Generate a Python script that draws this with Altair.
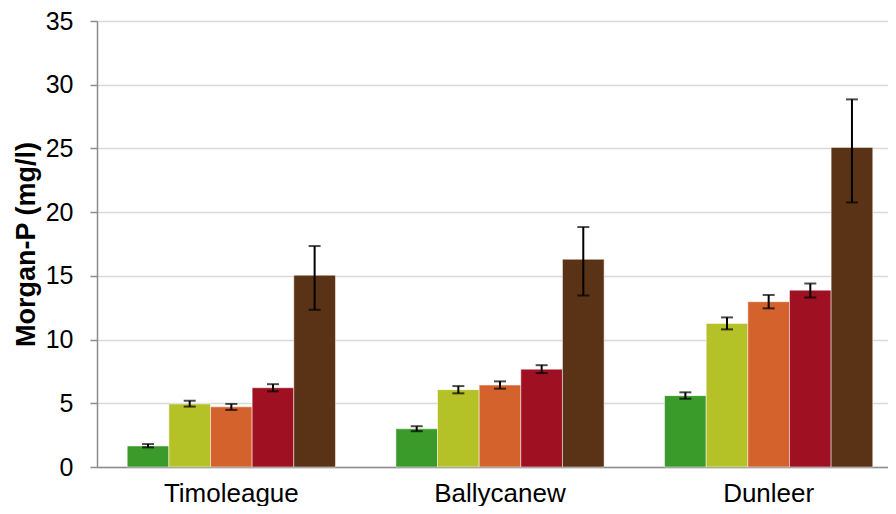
import altair as alt
import pandas as pd

sites = ["Timoleague", "Ballycanew", "Dunleer"]
treatments = ["T1", "T2", "T3", "T4", "T5"]
colors = ["#3A9A2A", "#B5C227", "#D4622D", "#A01023", "#5A3215"]

means = {
    "Timoleague": [1.65, 4.95, 4.72, 6.22, 15.05],
    "Ballycanew": [3.00, 6.07, 6.43, 7.68, 16.30],
    "Dunleer": [5.60, 11.27, 12.97, 13.88, 25.08],
}
lows = {
    "Timoleague": [1.54, 4.74, 4.48, 5.94, 12.34],
    "Ballycanew": [2.81, 5.78, 6.15, 7.37, 13.46],
    "Dunleer": [5.36, 10.80, 12.45, 13.30, 20.76],
}
highs = {
    "Timoleague": [1.80, 5.20, 4.95, 6.50, 17.34],
    "Ballycanew": [3.20, 6.35, 6.72, 7.99, 18.83],
    "Dunleer": [5.86, 11.74, 13.50, 14.40, 28.85],
}

rows = []
for s in sites:
    for i, t in enumerate(treatments):
        rows.append({"site": s, "trt": t, "mean": means[s][i],
                     "lo": lows[s][i], "hi": highs[s][i]})
df = pd.DataFrame(rows)

FONT = "Liberation Sans"

x = alt.X("site:N", sort=sites, title=None,
          scale=alt.Scale(range=[0, 806], paddingInner=0.225, paddingOuter=0.1125),
          axis=alt.Axis(ticks=False, labelAngle=0, labelPadding=13,
                        labelFontSize=26, labelFont=FONT, labelColor="#000000",
                        domainColor="#8c8c8c", domainWidth=1.5, grid=False))
xo = alt.XOffset("trt:N", sort=treatments, scale=alt.Scale(paddingInner=0, paddingOuter=0))
yscale = alt.Scale(domain=[0, 35])

bars = alt.Chart(df).mark_bar(stroke="#ffffff", strokeWidth=0.7, strokeOpacity=0.7).encode(
    x=x,
    xOffset=xo,
    y=alt.Y("mean:Q", scale=yscale, title="Morgan-P (mg/l)",
            axis=alt.Axis(values=[0, 5, 10, 15, 20, 25, 30, 35], tickSize=7,
                          tickColor="#8c8c8c", tickWidth=1.5,
                          domainColor="#8c8c8c", domainWidth=1.5,
                          gridColor="#d9d9d9", gridWidth=1.5,
                          labelFontSize=25, labelFont=FONT, labelColor="#000000",
                          labelPadding=17, titleFont=FONT, titleFontSize=27,
                          titleFontWeight="bold", titleColor="#000000", titlePadding=5)),
    color=alt.Color("trt:N", sort=treatments,
                    scale=alt.Scale(domain=treatments, range=colors), legend=None),
)

rules = alt.Chart(df).mark_rule(color="#000000", strokeWidth=2).encode(
    x=alt.X("site:N", sort=sites), xOffset=xo,
    y=alt.Y("lo:Q", scale=yscale), y2="hi:Q",
)
cap_hi = alt.Chart(df).mark_tick(color="#000000", thickness=2, size=12).encode(
    x=alt.X("site:N", sort=sites), xOffset=xo, y=alt.Y("hi:Q", scale=yscale),
)
cap_lo = alt.Chart(df).mark_tick(color="#000000", thickness=2, size=12).encode(
    x=alt.X("site:N", sort=sites), xOffset=xo, y=alt.Y("lo:Q", scale=yscale),
)

chart = alt.layer(bars, rules, cap_hi, cap_lo).properties(
    width=791, height=446,
    autosize=alt.AutoSizeParams(type="none"),
    padding={"left": 89, "top": 13, "right": 0, "bottom": 39},
).configure_view(stroke=None).configure(background="#ffffff")

chart.save("out.html", embed_options={"renderer": "svg", "actions": False})
